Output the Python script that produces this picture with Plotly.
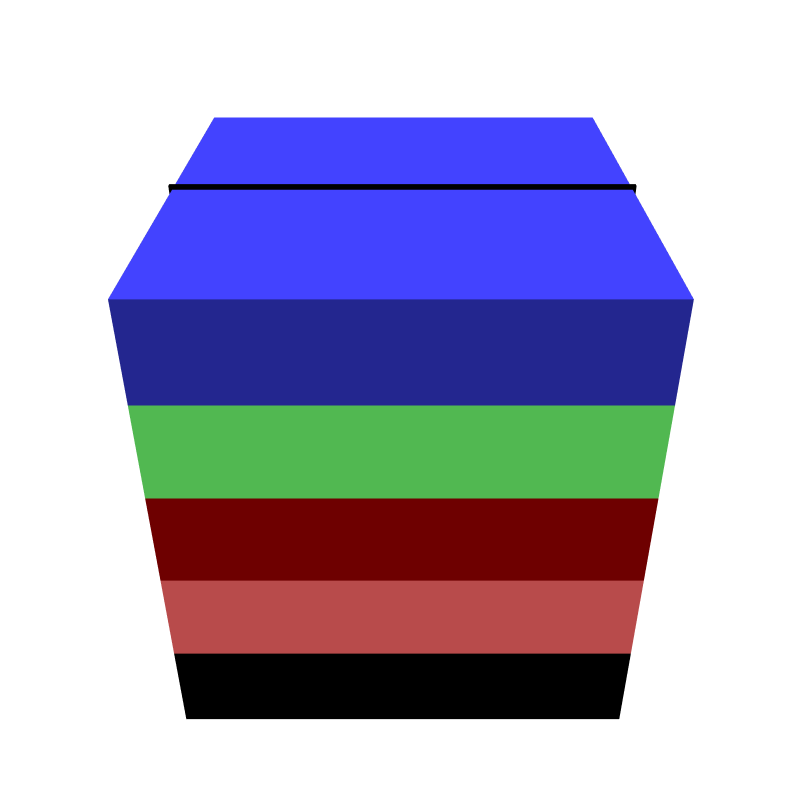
import plotly.graph_objects as go

# layers from bottom to top (fraction of the block height)
layer_bottom = [0.0, 0.2, 0.4, 0.6, 0.8]
layer_top = [0.2, 0.4, 0.6, 0.8, 1.0]
layer_colors = ["#000000", "#b84b4b", "#6e0000", "#51b851", "#23268f"]
top_face_color = "#4343ff"

# thin black seam across the top surface
seam_y = [0.495, 0.505]
seam_z = [0.97, 1.008]


def box(x0, x1, y0, y1, z0, z1, side, top=None):
    x = [x0, x1, x1, x0, x0, x1, x1, x0]
    y = [y0, y0, y1, y1, y0, y0, y1, y1]
    z = [z0, z0, z0, z0, z1, z1, z1, z1]
    # bottom, top, front, back, left, right
    i = [0, 0, 4, 4, 0, 0, 3, 3, 0, 0, 1, 1]
    j = [1, 2, 5, 6, 1, 5, 2, 6, 3, 7, 2, 6]
    k = [2, 3, 6, 7, 5, 4, 6, 7, 7, 4, 6, 5]
    fc = [side] * 12
    if top is not None:
        fc[2] = fc[3] = top
    return go.Mesh3d(
        x=x, y=y, z=z, i=i, j=j, k=k,
        facecolor=fc, flatshading=True,
        lighting=dict(ambient=1, diffuse=0, specular=0, roughness=1, fresnel=0),
        hoverinfo="skip", showscale=False,
    )


fig = go.Figure()
for n in range(len(layer_top)):
    top = top_face_color if n == len(layer_top) - 1 else None
    fig.add_trace(box(0, 1, 0, 1, layer_bottom[n], layer_top[n], layer_colors[n], top))

fig.add_trace(box(-0.007, 1.007, seam_y[0], seam_y[1], seam_z[0], seam_z[1], "#000000"))

noaxis = dict(visible=False, range=[-0.01, 1.01])
fig.update_layout(
    width=800, height=800,
    margin=dict(l=0, r=0, t=0, b=0),
    paper_bgcolor="white",
    showlegend=False,
    scene=dict(
        xaxis=noaxis, yaxis=noaxis, zaxis=noaxis,
        aspectmode="manual",
        aspectratio=dict(x=0.93, y=1, z=1),
        camera=dict(eye=dict(x=0.011, y=-1.845, z=1.162), up=dict(x=0, y=0, z=1),
                    center=dict(x=0.011, y=-0.012, z=-0.019)),
    ),
)

fig.write_html("out.html")
